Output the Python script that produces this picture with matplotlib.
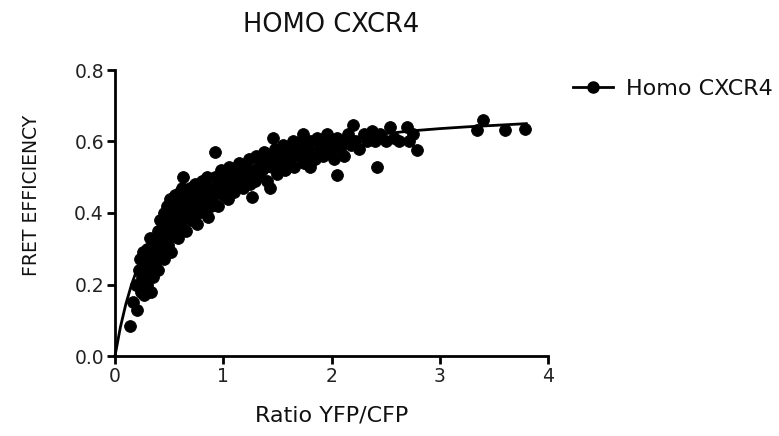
import matplotlib
matplotlib.use("Agg")
import matplotlib.pyplot as plt
from matplotlib.lines import Line2D

plt.rcParams['font.family'] = ['DejaVu Sans']

# Scatter data (Ratio YFP/CFP, FRET efficiency)
ratio = [0.14, 0.17, 0.19, 0.20, 0.22, 0.24, 0.25, 0.27, 0.28, 0.30, 0.30, 0.31, 0.33, 0.33,
         0.35, 0.36, 0.37, 0.38, 0.40, 0.40, 0.41, 0.42, 0.43, 0.45, 0.45, 0.46, 0.47, 0.48,
         0.50, 0.50, 0.51, 0.52, 0.53, 0.54, 0.55, 0.56, 0.57, 0.58, 0.60, 0.60, 0.61, 0.62,
         0.63, 0.64, 0.65, 0.66, 0.68, 0.69, 0.70, 0.71, 0.72, 0.74, 0.75, 0.76, 0.78, 0.80,
         0.80, 0.82, 0.84, 0.85, 0.86, 0.88, 0.90, 0.92, 0.92, 0.94, 0.95, 0.97, 0.98, 1.00,
         1.00, 1.02, 1.04, 1.05, 1.07, 1.08, 1.10, 1.12, 1.14, 1.15, 1.17, 1.18, 1.20, 1.22,
         1.24, 1.25, 1.27, 1.28, 1.30, 1.32, 1.34, 1.36, 1.38, 1.40, 1.42, 1.43, 1.45, 1.46,
         1.48, 1.50, 1.52, 1.54, 1.55, 1.57, 1.60, 1.62, 1.64, 1.65, 1.67, 1.70, 1.72, 1.74,
         1.75, 1.77, 1.80, 1.80, 1.82, 1.85, 1.87, 1.90, 1.92, 1.94, 1.96, 1.98, 2.00, 2.02,
         2.05, 2.05, 2.08, 2.10, 2.12, 2.15, 2.18, 2.20, 2.22, 2.25, 2.30, 2.33, 2.37, 2.40,
         2.42, 2.45, 2.50, 2.54, 2.58, 2.62, 2.70, 2.72, 2.75, 2.79, 3.34, 3.40, 3.60, 3.79,
         0.26, 0.34, 0.39, 0.44, 0.49, 0.55, 0.59, 0.67, 0.73, 0.79, 0.87, 0.96, 1.06, 1.16,
         0.23, 0.29, 0.32, 0.36, 0.43, 0.47, 0.52, 0.57, 0.62, 0.66, 0.70, 0.77, 0.83, 0.89,
         0.99, 1.09, 1.19, 1.29, 1.39, 1.49, 1.59, 1.69, 1.79, 1.89]
fret = [0.085, 0.15, 0.20, 0.13, 0.24, 0.18, 0.22, 0.17, 0.26, 0.20, 0.30, 0.24, 0.18, 0.28,
        0.22, 0.32, 0.26, 0.30, 0.24, 0.35, 0.28, 0.38, 0.32, 0.27, 0.40, 0.35, 0.30, 0.42,
        0.37, 0.33, 0.44, 0.29, 0.40, 0.35, 0.45, 0.38, 0.42, 0.33, 0.40, 0.46, 0.36, 0.43,
        0.50, 0.39, 0.45, 0.35, 0.42, 0.47, 0.38, 0.44, 0.40, 0.48, 0.43, 0.37, 0.45, 0.41,
        0.49, 0.46, 0.43, 0.50, 0.39, 0.47, 0.44, 0.57, 0.50, 0.46, 0.42, 0.49, 0.52, 0.45,
        0.48, 0.51, 0.44, 0.53, 0.47, 0.50, 0.46, 0.52, 0.49, 0.54, 0.50, 0.47, 0.53, 0.50,
        0.55, 0.48, 0.445, 0.52, 0.56, 0.50, 0.54, 0.52, 0.57, 0.49, 0.55, 0.47, 0.53, 0.61,
        0.58, 0.51, 0.56, 0.54, 0.59, 0.52, 0.57, 0.55, 0.60, 0.53, 0.58, 0.56, 0.60, 0.62,
        0.54, 0.58, 0.53, 0.60, 0.57, 0.55, 0.61, 0.58, 0.56, 0.60, 0.62, 0.57, 0.59, 0.55,
        0.506, 0.61, 0.58, 0.60, 0.56, 0.62, 0.59, 0.646, 0.60, 0.58, 0.62, 0.60, 0.63, 0.60,
        0.53, 0.62, 0.60, 0.64, 0.61, 0.60, 0.64, 0.60, 0.62, 0.576, 0.632, 0.66, 0.632, 0.635,
        0.29, 0.25, 0.33, 0.36, 0.31, 0.41, 0.37, 0.40, 0.46, 0.43, 0.45, 0.48, 0.50, 0.52,
        0.27, 0.22, 0.33, 0.28, 0.35, 0.38, 0.42, 0.36, 0.47, 0.41, 0.46, 0.40, 0.48, 0.42,
        0.47, 0.49, 0.51, 0.49, 0.53, 0.55, 0.53, 0.58, 0.56, 0.59]

# Fitted saturation curve
fit_x = [0, 0.05, 0.1, 0.15, 0.2, 0.3, 0.4, 0.5, 0.6, 0.8, 1.0, 1.25, 1.5, 1.75,
         2.0, 2.25, 2.5, 2.75, 3.0, 3.25, 3.5, 3.8]
fit_y = [0, 0.081, 0.145, 0.197, 0.24, 0.31, 0.36, 0.40, 0.43, 0.48, 0.515, 0.548,
         0.571, 0.589, 0.601, 0.613, 0.622, 0.63, 0.636, 0.641, 0.645, 0.65]

x_ticks = [0, 1, 2, 3, 4]
y_ticks = [0.0, 0.2, 0.4, 0.6, 0.8]
y_tick_labels = ['0.0', '0.2', '0.4', '0.6', '0.8']
series_name = 'Homo CXCR4'

fig = plt.figure(figsize=(7.79, 4.36), dpi=100)
ax = fig.add_axes([115 / 779, 1 - 356 / 436, 433 / 779, 286 / 436])

ax.plot(fit_x, fit_y, color='black', lw=2.0, zorder=2, clip_on=False)
ax.plot(ratio, fret, linestyle='none', marker='o', ms=8.5, color='black',
        markeredgewidth=0.6, zorder=3, clip_on=False)

ax.set_xlim(0, 4)
ax.set_ylim(0, 0.8)
ax.set_xticks(x_ticks)
ax.set_yticks(y_ticks)
ax.set_yticklabels(y_tick_labels)
for side in ['top', 'right']:
    ax.spines[side].set_visible(False)
for side in ['left', 'bottom']:
    ax.spines[side].set_linewidth(2.0)
ax.tick_params(axis='both', direction='out', length=6, width=2.0,
               labelsize=13.5, pad=2, colors='black')
ax.tick_params(axis='both', labelcolor='#222222')

ax.set_title('HOMO CXCR4', fontsize=18.5, pad=27, color='#111111')
ax.set_xlabel('Ratio YFP/CFP', fontsize=16, labelpad=14, color='#111111')
ax.set_ylabel('FRET EFFICIENCY', fontsize=13.5, color='#111111')
ax.yaxis.set_label_coords(-0.172, 0.56)

handle = Line2D([0], [0], color='black', lw=2.0, marker='o', ms=8)
leg = ax.legend([handle], [series_name], loc='center left',
                bbox_to_anchor=(573 / 779, 1 - 89 / 436),
                bbox_transform=fig.transFigure, frameon=False,
                borderpad=0, borderaxespad=0, handlelength=1.8,
                handletextpad=0.6, fontsize=16)
for t in leg.get_texts():
    t.set_color('#111111')

fig.savefig('out.png', dpi=100)
